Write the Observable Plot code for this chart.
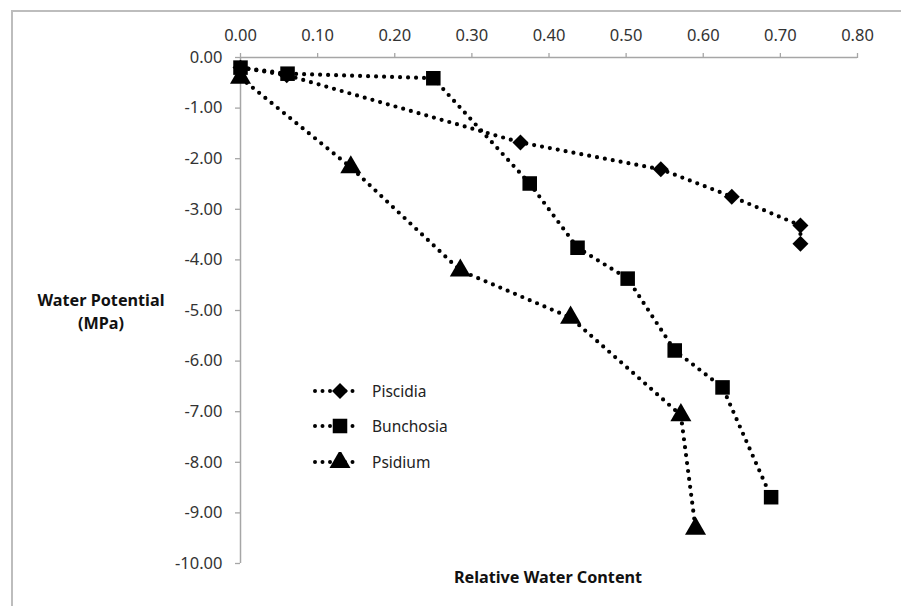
<!DOCTYPE html>
<html>
<head>
<meta charset="utf-8">
<script src="https://cdn.jsdelivr.net/npm/d3@7"></script>
<script src="https://cdn.jsdelivr.net/npm/@observablehq/plot@0.6"></script>
<style>
  body { margin: 0; background: #fff; font-family: "Noto Sans", "Open Sans", sans-serif; }
  #wrap { position: relative; width: 901px; height: 606px; overflow: hidden; }
  #border { position: absolute; left: 11px; top: 10px; width: 900px; height: 610px; border: 2px solid #bdbdbd; box-sizing: border-box; }
  #chart { position: absolute; left: 0; top: 0; }
  .lbl { position: absolute; font-weight: bold; font-size: 16.2px; color: #111; text-align: center; }
  #legend { position: absolute; left: 312px; top: 373px; font-size: 15.5px; color: #222; }
  #legend .row { height: 35.5px; display: flex; align-items: center; }
  #legend svg { margin-right: 8px; }
</style>
</head>
<body>
<div id="wrap">
  <div id="border"></div>
  <div id="chart"></div>
  <div class="lbl" style="left:26px; top:289px; width:150px; line-height:23px;">Water Potential<br>(MPa)</div>
  <div class="lbl" style="left:398px; top:566px; width:300px;">Relative Water Content</div>
  <div id="legend"></div>
</div>
<script>
const series = ["Piscidia", "Bunchosia", "Psidium"];
const piscidiaX = [0.00, 0.06, 0.363, 0.545, 0.637, 0.726, 0.726];
const piscidiaY = [-0.20, -0.35, -1.68, -2.21, -2.75, -3.32, -3.68];
const bunchosiaX = [0.00, 0.061, 0.25, 0.375, 0.437, 0.502, 0.563, 0.625, 0.688];
const bunchosiaY = [-0.20, -0.32, -0.41, -2.49, -3.76, -4.37, -5.79, -6.52, -8.69];
const psidiumX = [0.00, 0.143, 0.285, 0.428, 0.571, 0.59];
const psidiumY = [-0.40, -2.17, -4.21, -5.14, -7.07, -9.31];
const xTicks = [0, 0.1, 0.2, 0.3, 0.4, 0.5, 0.6, 0.7, 0.8];
const yTicks = [0, -1, -2, -3, -4, -5, -6, -7, -8, -9, -10];

const symbols = {Piscidia: "diamond2", Bunchosia: "square", Psidium: "triangle"};
const radii = {Piscidia: 7.2, Bunchosia: 8.2, Psidium: 7.8};

function build(name, xs, ys) { return xs.map((x, i) => ({series: name, x, y: ys[i]})); }
const data = [
  ...build("Piscidia", piscidiaX, piscidiaY),
  ...build("Bunchosia", bunchosiaX, bunchosiaY),
  ...build("Psidium", psidiumX, psidiumY)
];
const fmt = d => d.toFixed(2);
const axisColor = "#a6a6a6";
const dotted = {stroke: "#000", strokeWidth: 4.2, strokeDasharray: "0 8", strokeLinecap: "round"};

const chart = Plot.plot({
  width: 901,
  height: 606,
  marginLeft: 240,
  marginRight: 44,
  marginTop: 57,
  marginBottom: 43,
  x: {domain: [0, 0.8]},
  y: {domain: [-10, 0]},
  style: {fontFamily: "Noto Sans, Open Sans, sans-serif", fontSize: "16.5px", color: "#404040", background: "transparent"},
  marks: [
    Plot.ruleY([0], {stroke: axisColor, strokeWidth: 1.5}),
    Plot.ruleX([0], {stroke: axisColor, strokeWidth: 1.5}),
    Plot.axisX({anchor: "top", ticks: xTicks, tickFormat: fmt, tickSize: 5, tickPadding: 12, stroke: axisColor, strokeWidth: 1.3, fill: "#333", label: null}),
    Plot.axisY({anchor: "left", ticks: yTicks, tickFormat: fmt, tickSize: 5, tickPadding: 13, stroke: axisColor, strokeWidth: 1.3, fill: "#333", label: null}),
    Plot.line(data, {x: "x", y: "y", z: "series", ...dotted}),
    ...series.map(s => Plot.dot(data.filter(d => d.series === s), {x: "x", y: "y", symbol: () => symbols[s], r: radii[s], fill: "#000", stroke: "none"}))
  ]
});
document.getElementById("chart").appendChild(chart);

// legend
const legend = document.getElementById("legend");
series.forEach(s => {
  const row = document.createElement("div");
  row.className = "row";
  const svg = d3.create("svg").attr("width", 52).attr("height", 20);
  svg.append("line").attr("x1", 3).attr("x2", 48).attr("y1", 10).attr("y2", 10)
    .attr("stroke", "#000").attr("stroke-width", 4).attr("stroke-dasharray", "0 7.5").attr("stroke-linecap", "round");
  const sym = {Piscidia: d3.symbolDiamond2, Bunchosia: d3.symbolSquare, Psidium: d3.symbolTriangle}[s];
  const r = radii[s];
  svg.append("path").attr("transform", "translate(28,10)").attr("d", d3.symbol(sym, Math.PI * r * r)()).attr("fill", "#000");
  row.appendChild(svg.node());
  const t = document.createElement("span");
  t.textContent = s;
  row.appendChild(t);
  legend.appendChild(row);
});
</script>
</body>
</html>
